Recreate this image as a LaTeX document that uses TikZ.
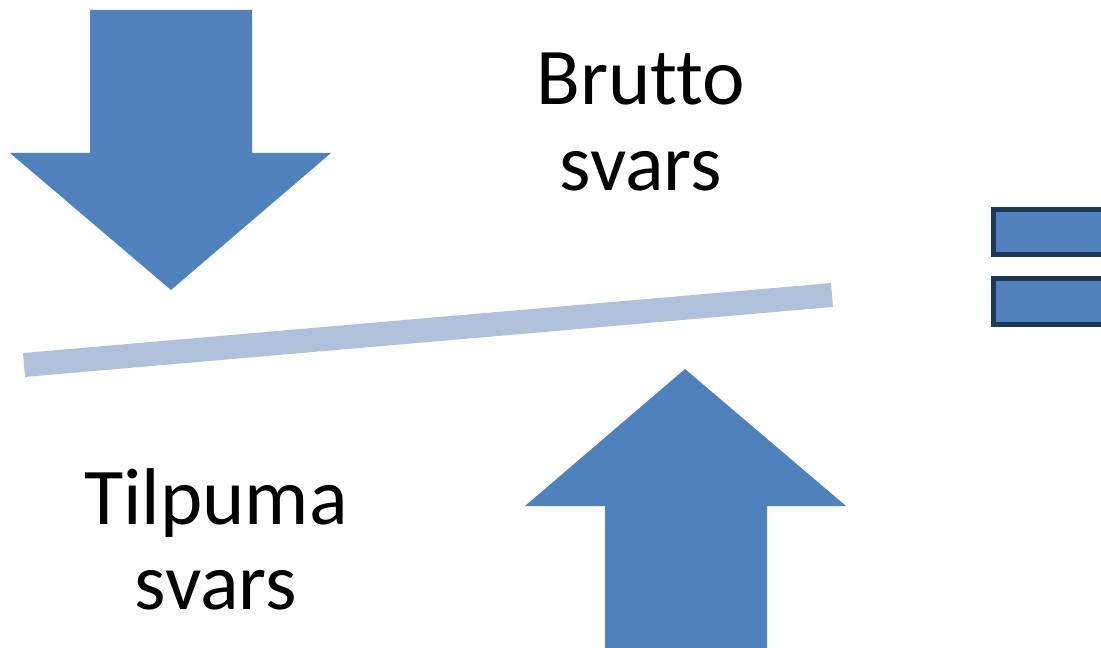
\documentclass[tikz,border=0pt]{standalone}
\usepackage{fontspec}
\setmainfont[Ligatures=NoCommon]{Carlito}
\definecolor{arrowblue}{HTML}{4F81BD}
\definecolor{beamblue}{HTML}{B0C1DC}
\definecolor{edgeblue}{HTML}{1F3756}
\begin{document}
\begin{tikzpicture}[x=0.02cm,y=-0.02cm,
	bigtext/.style={align=center,font=\fontsize{45.8}{48.5}\selectfont},
	block/.style={fill=arrowblue,draw=none}]
	
	\useasboundingbox (0,0) rectangle (1101,648);
	
	\draw [block] (90,10) -- (252,10) -- (252,153) -- (331,153) -- (171,290) -- (10,153) -- (90,153) -- cycle;
	
	\draw [block] (605,648) -- (767,648) -- (767,506) -- (846,506) -- (685,369) -- (525,506) -- (605,506) -- cycle;
	
	\coordinate (beamleft) at (24,365);
	\coordinate (beamright) at (832,295);
	\draw [beamblue, line width=0.48cm] (beamleft) -- (beamright);
	
	\node [bigtext] (brutto) at (641,122) {Brutto\\svars};
	
	\node [bigtext] (tilpuma) at (216,539) {Tilpuma\\svars};
	
	\draw [fill=arrowblue, draw=edgeblue, line width=0.1cm] (993,210) rectangle (1130,255);
	\draw [fill=arrowblue, draw=edgeblue, line width=0.1cm] (993,279) rectangle (1130,324);
	
\end{tikzpicture}
\end{document}
